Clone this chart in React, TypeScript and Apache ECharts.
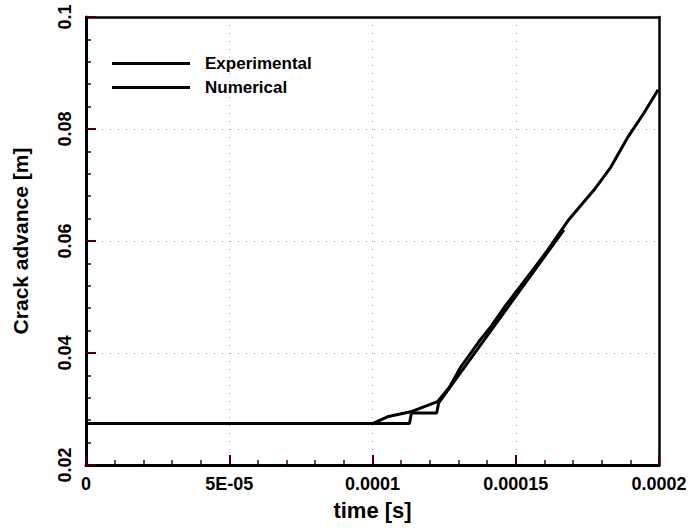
import React, { useEffect, useRef } from "react";
import * as echarts from "echarts";

const xTickLabels = ["0", "5E-05", "0.0001", "0.00015", "0.0002"];
const yTickLabels = ["0.02", "0.04", "0.06", "0.08", "0.1"];

const expTime = [0, 0.0001129, 0.0001136, 0.0001224, 0.0001231, 0.0001668];
const expCrack = [0.0274, 0.0274, 0.0293, 0.0293, 0.0311, 0.062];

const numTime = [
  0, 0.0001, 0.0001052, 0.0001133, 0.0001227, 0.000127, 0.0001308, 0.0001371,
  0.0001413, 0.0001465, 0.0001517, 0.0001565, 0.0001612, 0.0001682,
  0.0001738, 0.0001773, 0.0001832, 0.0001892, 0.0001948, 0.0001997,
];
const numCrack = [
  0.0274, 0.0274, 0.0286, 0.0295, 0.0313, 0.034, 0.0375, 0.042, 0.0447,
  0.0485, 0.052, 0.0552, 0.0584, 0.0636, 0.067, 0.0691, 0.0732, 0.0786,
  0.0829, 0.087,
];

const FONT = "Liberation Sans, Arial, sans-serif";
const TICK = "#440000";

function mainAxisParts() {
  return {
    axisLine: { show: true, onZero: false, lineStyle: { color: "#000", width: 3 } },
    axisTick: { show: true, inside: true, length: 10, lineStyle: { color: TICK, width: 2 } },
    minorTick: { show: true, splitNumber: 5, length: 5, lineStyle: { color: TICK, width: 1.5 } },
    splitLine: { show: true, lineStyle: { color: "#999", width: 1, type: [1, 7] } },
    minorSplitLine: { show: false },
  };
}

function frameAxisParts() {
  return {
    axisLine: { show: true, onZero: false, lineStyle: { color: "#000", width: 2.5 } },
    axisTick: { show: false },
    minorTick: { show: false },
    axisLabel: { show: false },
    splitLine: { show: false },
  };
}

export default function App() {
  const ref = useRef<HTMLDivElement>(null);
  useEffect(() => {
    const chart = echarts.init(ref.current!, null, { renderer: "svg" });
    chart.setOption({
      animation: false,
      backgroundColor: "#fff",
      grid: { left: 86, right: 31, top: 17, bottom: 64, show: false, containLabel: false },
      legend: {
        orient: "vertical",
        left: 112, top: 55, padding: 0,
        itemWidth: 78, itemHeight: 14, itemGap: 7,
        icon: "path://M0,6 L78,6 L78,9 L0,9 Z",
        textStyle: { fontFamily: FONT, fontWeight: "bold", fontSize: 17, color: "#000", padding: [0, 0, 0, 10] },
        data: ["Experimental", "Numerical"],
      },
      xAxis: [
        {
          type: "value", min: 0, max: 0.0002, interval: 0.00005, position: "bottom",
          name: "time [s]", nameLocation: "middle", nameGap: 34,
          nameTextStyle: { fontFamily: FONT, fontWeight: "bold", fontSize: 22, color: "#000" },
          axisLabel: {
            margin: 10, color: "#000", fontFamily: FONT, fontWeight: "bold", fontSize: 18,
            formatter: (v: number) => xTickLabels[Math.round(v / 0.00005)] ?? "",
          },
          ...mainAxisParts(),
        },
        { type: "value", min: 0, max: 0.0002, interval: 0.00005, position: "top", ...frameAxisParts() },
      ],
      yAxis: [
        {
          type: "value", min: 0.02, max: 0.1, interval: 0.02, position: "left",
          name: "Crack advance [m]", nameLocation: "middle", nameGap: 55, nameRotate: 90,
          nameTextStyle: { fontFamily: FONT, fontWeight: "bold", fontSize: 21, color: "#000" },
          axisLabel: {
            margin: 12, rotate: 90, color: "#000", fontFamily: FONT, fontWeight: "bold", fontSize: 18,
            formatter: (v: number) => yTickLabels[Math.round((v - 0.02) / 0.02)] ?? "",
          },
          ...mainAxisParts(),
        },
        { type: "value", min: 0.02, max: 0.1, interval: 0.02, position: "right", ...frameAxisParts() },
      ],
      series: [
        {
          name: "Experimental", type: "line", symbol: "none", xAxisIndex: 0, yAxisIndex: 0,
          lineStyle: { color: "#000", width: 3 }, itemStyle: { color: "#000" },
          data: expTime.map((t, i) => [t, expCrack[i]]),
        },
        {
          name: "Numerical", type: "line", symbol: "none", xAxisIndex: 0, yAxisIndex: 0,
          lineStyle: { color: "#000", width: 3 }, itemStyle: { color: "#000" },
          data: numTime.map((t, i) => [t, numCrack[i]]),
        },
      ],
    });
    return () => chart.dispose();
  }, []);
  return <div ref={ref} style={{ width: 690, height: 529, position: "absolute", left: 0, top: 0 }} />;
}
